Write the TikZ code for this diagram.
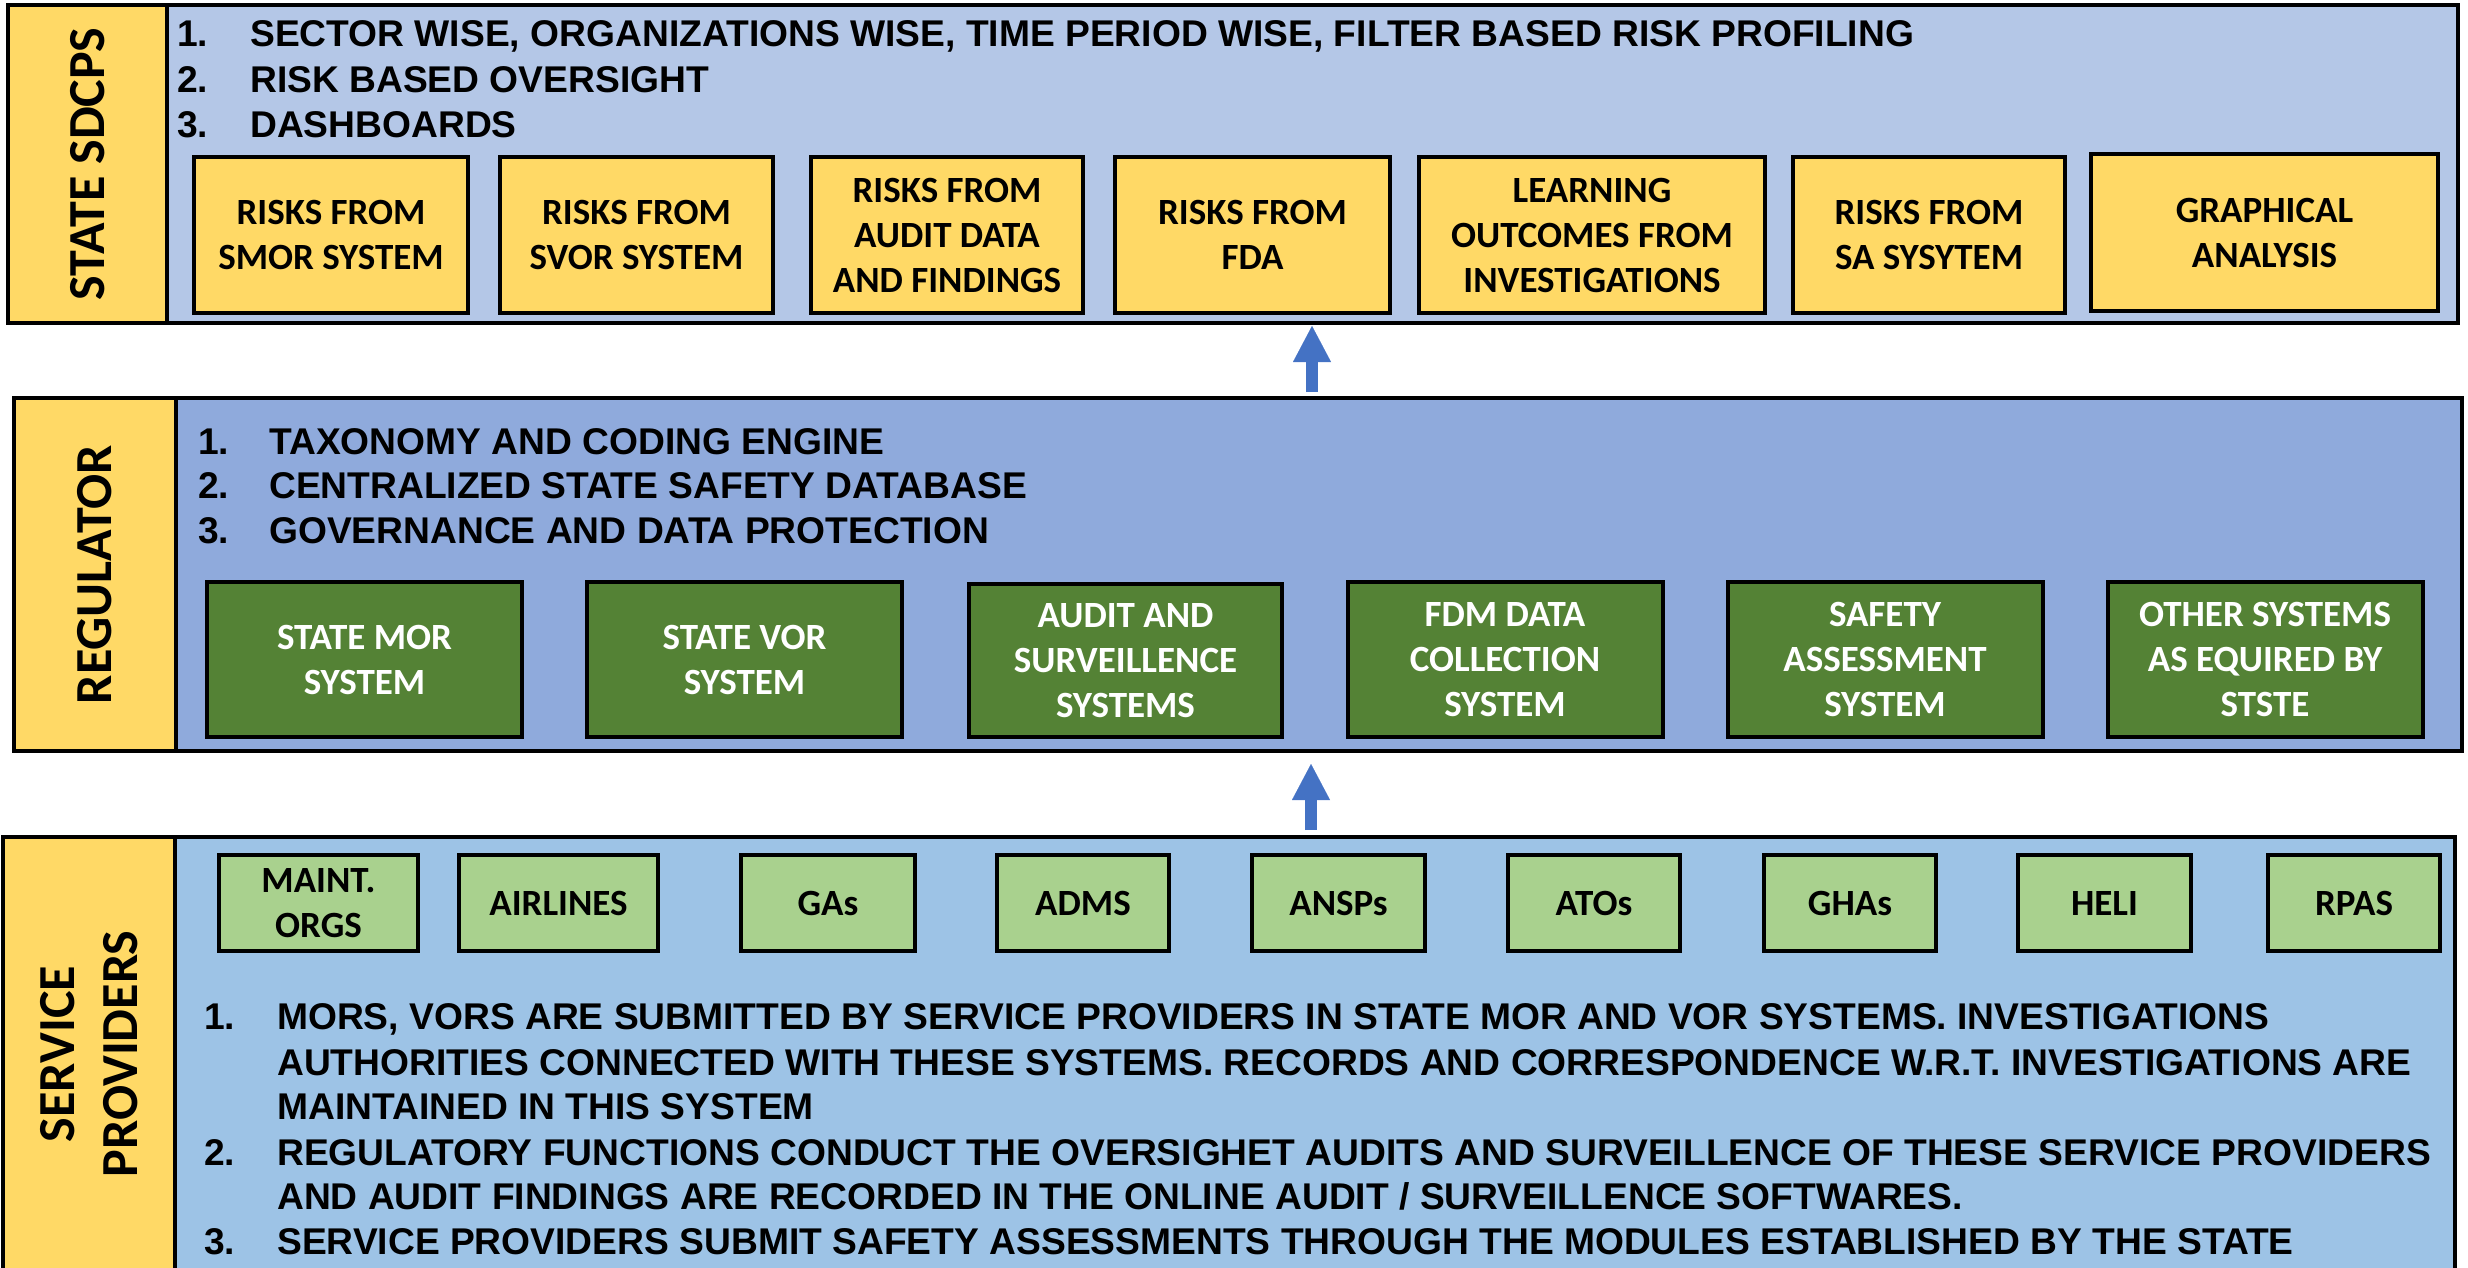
\documentclass[tikz,border=0pt]{standalone}
\usepackage{fontspec}
\setmainfont{Liberation Sans}
\newfontfamily\carlito{Carlito}
\usetikzlibrary{arrows.meta}
\definecolor{topblue}{HTML}{B4C7E7}
\definecolor{midblue}{HTML}{8FAADC}
\definecolor{botblue}{HTML}{9DC3E6}
\definecolor{stripyellow}{HTML}{FFD966}
\definecolor{darkgreen}{HTML}{548235}
\definecolor{lightgreen}{HTML}{A9D18E}
\definecolor{arrowblue}{HTML}{4472C4}
\newcommand\boxfont{\carlito\bfseries\fontsize{37pt}{45pt}\selectfont}
\newcommand\labfont{\carlito\bfseries\fontsize{52pt}{63pt}\selectfont}
\newcommand\listfont{\bfseries\fontsize{37.2pt}{45pt}\selectfont}
\newcommand\numbox[1]{\makebox[73pt][l]{#1}}
\newcommand\numboxb[1]{\makebox[71pt][l]{#1}}
\tikzset{
  band/.style={draw=black, line width=4pt, rectangle, inner sep=0pt, outer sep=0pt, anchor=north west},
  strip/.style={band, fill=stripyellow},
  bandlabel/.style={rotate=90, font=\labfont, align=center, inner sep=0pt},
  listline/.style={anchor=base west, font=\listfont, inner sep=0pt},
  ybox/.style={draw=black, line width=4pt, fill=stripyellow, font=\boxfont, align=center, inner sep=0pt, minimum height=156pt},
  gbox/.style={draw=black, line width=4pt, fill=darkgreen, text=white, font=\boxfont, align=center, inner sep=0pt, minimum width=315pt, minimum height=155pt},
  lgbox/.style={draw=black, line width=4pt, fill=lightgreen, font=\boxfont, align=center, inner sep=0pt, minimum height=96pt},
  blockarrow/.style={draw=arrowblue, line width=12pt, -{Triangle[length=36pt,width=38pt,line width=0.1pt]}}
}
\begin{document}
\begin{tikzpicture}[x=1pt,y=-1pt]
\useasboundingbox (0,0) rectangle (2468,1268);
\clip (0,0) rectangle (2468,1268);
% ---------- top band ----------
\node[band, fill=topblue, minimum width=2450pt, minimum height=318pt] (top) at (8,5) {};
\node[strip, minimum width=159pt, minimum height=318pt] (topstrip) at (8,5) {};
\node[bandlabel] (toplab) at (topstrip.center) {STATE SDCPS};
\node[listline] (tl1) at (177,46.5) {\numbox{1.}SECTOR WISE, ORGANIZATIONS WISE, TIME PERIOD WISE, FILTER BASED RISK PROFILING};
\node[listline] (tl2) at (177,92.5) {\numbox{2.}RISK BASED OVERSIGHT};
\node[listline] (tl3) at (177,137.5) {\numbox{3.}DASHBOARDS};
\node[ybox, minimum width=274pt] (y1) at (331,235) {RISKS FROM\\SMOR SYSTEM};
\node[ybox, minimum width=273pt] (y2) at (636.5,235) {RISKS FROM\\SVOR SYSTEM};
\node[ybox, minimum width=272pt] (y3) at (947,235) {RISKS FROM\\AUDIT DATA\\AND FINDINGS};
\node[ybox, minimum width=275pt] (y4) at (1252.5,235) {RISKS FROM\\FDA};
\node[ybox, minimum width=346pt] (y5) at (1592,235) {LEARNING\\OUTCOMES FROM\\INVESTIGATIONS};
\node[ybox, minimum width=272pt] (y6) at (1929,235) {RISKS FROM\\SA SYSYTEM};
\node[ybox, minimum width=347pt, minimum height=157pt] (y7) at (2264.5,232.5) {GRAPHICAL\\ANALYSIS};
% ---------- middle band ----------
\node[band, fill=midblue, minimum width=2448pt, minimum height=353pt] (mid) at (14,398) {};
\node[strip, minimum width=162pt, minimum height=353pt] (midstrip) at (14,398) {};
\node[bandlabel] (midlab) at (midstrip.center) {REGULATOR};
\node[listline] (ml1) at (198,454.5) {\numboxb{1.}TAXONOMY AND CODING ENGINE};
\node[listline] (ml2) at (198,498.5) {\numboxb{2.}CENTRALIZED STATE SAFETY DATABASE};
\node[listline] (ml3) at (198,543.5) {\numboxb{3.}GOVERNANCE AND DATA PROTECTION};
\node[gbox] (g1) at (364.5,659.5) {STATE MOR\\SYSTEM};
\node[gbox] (g2) at (744.5,659.5) {STATE VOR\\SYSTEM};
\node[gbox, minimum width=313pt, minimum height=153pt] (g3) at (1125.5,660.5) {AUDIT AND\\SURVEILLENCE\\SYSTEMS};
\node[gbox] (g4) at (1505,659.5) {FDM DATA\\COLLECTION\\SYSTEM};
\node[gbox] (g5) at (1885,659.5) {SAFETY\\ASSESSMENT\\SYSTEM};
\node[gbox] (g6) at (2265,659.5) {OTHER SYSTEMS\\AS EQUIRED BY\\STSTE};
% ---------- bottom band ----------
\node[band, fill=botblue, minimum width=2452pt, minimum height=460pt] (bot) at (3,837) {};
\node[strip, minimum width=172pt, minimum height=460pt] (botstrip) at (3,837) {};
\node[bandlabel] (botlab) at (89,1054) {SERVICE\\PROVIDERS};
\node[lgbox, minimum width=199pt] (s1) at (318.5,903) {MAINT.\\ORGS};
\node[lgbox, minimum width=199pt] (s2) at (558.5,903) {AIRLINES};
\node[lgbox, minimum width=174pt] (s3) at (828,903) {GAs};
\node[lgbox, minimum width=172pt] (s4) at (1083,903) {ADMS};
\node[lgbox, minimum width=173pt] (s5) at (1338.5,903) {ANSPs};
\node[lgbox, minimum width=172pt] (s6) at (1594,903) {ATOs};
\node[lgbox, minimum width=172pt] (s7) at (1850,903) {GHAs};
\node[lgbox, minimum width=173pt] (s8) at (2104.5,903) {HELI};
\node[lgbox, minimum width=172pt] (s9) at (2354,903) {RPAS};
\node[listline] (bl1) at (204,1029.5) {\numbox{1.}MORS, VORS ARE SUBMITTED BY SERVICE PROVIDERS IN STATE MOR AND VOR SYSTEMS. INVESTIGATIONS};
\node[listline] (bl2) at (277,1075.5) {AUTHORITIES CONNECTED WITH THESE SYSTEMS. RECORDS AND CORRESPONDENCE W.R.T. INVESTIGATIONS ARE};
\node[listline] (bl3) at (277,1119.5) {MAINTAINED IN THIS SYSTEM};
\node[listline] (bl4) at (204,1165.5) {\numbox{2.}REGULATORY FUNCTIONS CONDUCT THE OVERSIGHET AUDITS AND SURVEILLENCE OF THESE SERVICE PROVIDERS};
\node[listline] (bl5) at (277,1209.5) {AND AUDIT FINDINGS ARE RECORDED IN THE ONLINE AUDIT / SURVEILLENCE SOFTWARES.};
\node[listline] (bl6) at (204,1254.5) {\numbox{3.}SERVICE PROVIDERS SUBMIT SAFETY ASSESSMENTS THROUGH THE MODULES ESTABLISHED BY THE STATE};
% ---------- arrows ----------
\draw[blockarrow, shorten <=6pt, shorten >=3pt] (1312,0 |- mid.north) -- (1312,0 |- top.south);
\draw[blockarrow, shorten <=7pt, shorten >=13pt] (1311,0 |- bot.north) -- (1311,0 |- mid.south);
\end{tikzpicture}
\end{document}
